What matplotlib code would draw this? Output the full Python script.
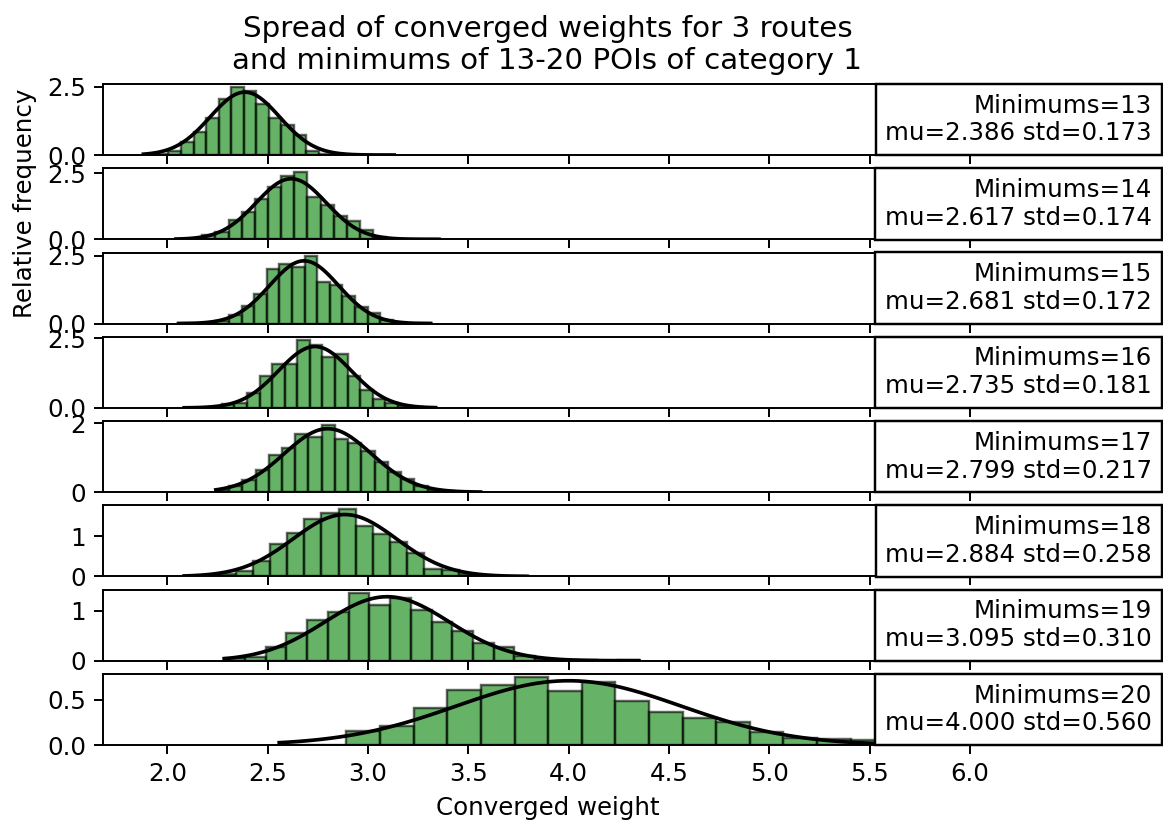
import numpy as np
import matplotlib
matplotlib.use("Agg")
import matplotlib.pyplot as plt

# ---- data ----
minimums = [13, 14, 15, 16, 17, 18, 19, 20]
mus = [2.386, 2.617, 2.681, 2.735, 2.799, 2.884, 3.095, 4.000]
stds = [0.173, 0.174, 0.172, 0.181, 0.217, 0.258, 0.310, 0.560]
# data range (min, max) of each sample -> 20 histogram bins
range_lo = [1.880, 2.042, 2.055, 2.083, 2.241, 2.083, 2.283, 2.557]
range_hi = [3.130, 3.354, 3.312, 3.337, 3.561, 3.794, 4.350, 5.909]
h13 = [0.01, 0.04, 0.13, 0.47, 0.85, 1.36, 2.04, 2.48, 2.35, 1.87, 1.36, 1.11, 0.72, 0.13, 0.02, 0.0, 0.0, 0.0, 0.0, 0.01]
h14 = [0.01, 0.02, 0.15, 0.28, 0.74, 1.02, 1.52, 1.99, 2.40, 2.56, 1.61, 1.31, 0.90, 0.71, 0.34, 0.10, 0.02, 0.0, 0.0, 0.01]
h15 = [0.01, 0.0, 0.04, 0.10, 0.33, 0.64, 1.10, 2.01, 2.19, 2.10, 2.50, 1.54, 1.44, 1.01, 0.60, 0.41, 0.14, 0.03, 0.0, 0.01]
h16 = [0.01, 0.01, 0.04, 0.13, 0.16, 0.54, 1.13, 1.59, 1.59, 2.43, 2.25, 1.84, 1.94, 1.13, 0.63, 0.31, 0.16, 0.06, 0.02, 0.01]
h17 = [0.06, 0.18, 0.36, 0.64, 1.07, 1.27, 1.69, 1.60, 1.96, 1.54, 1.42, 1.19, 0.87, 0.59, 0.38, 0.18, 0.06, 0.02, 0.01, 0.01]
h18 = [0.01, 0.02, 0.07, 0.14, 0.39, 0.80, 1.08, 1.44, 1.58, 1.69, 1.25, 1.07, 0.85, 0.59, 0.19, 0.17, 0.05, 0.02, 0.01, 0.01]
h19 = [0.05, 0.07, 0.28, 0.56, 0.81, 0.97, 1.36, 1.13, 1.26, 1.01, 0.77, 0.60, 0.35, 0.28, 0.09, 0.03, 0.01, 0.01, 0.0, 0.01]
h20 = [0.005, 0.005, 0.15, 0.21, 0.41, 0.61, 0.67, 0.75, 0.60, 0.70, 0.49, 0.37, 0.30, 0.25, 0.14, 0.08, 0.07, 0.05, 0.02, 0.01]
heights = [h13, h14, h15, h16, h17, h18, h19, h20]
yticks = [[0, 2.5], [0, 2.5], [0, 2.5], [0, 2.5], [0, 2], [0, 1], [0, 1], [0, 0.5]]
xticks = [2.0, 2.5, 3.0, 3.5, 4.0, 4.5, 5.0, 5.5, 6.0]
n_bins = 20

W, H, DPI = 1163, 825, 176
fig, axes = plt.subplots(8, 1, sharex=True, figsize=(W / DPI, H / DPI), dpi=DPI)
fig.subplots_adjust(left=103 / W, right=992 / W, top=1 - 84 / H, bottom=1 - 745 / H, hspace=0.1865)

for i, ax in enumerate(axes):
    edges = np.linspace(range_lo[i], range_hi[i], n_bins + 1)
    ax.hist(edges[:-1], bins=edges, weights=heights[i], color='g', alpha=0.6, edgecolor='black')
    x = np.linspace(range_lo[i], range_hi[i], 100)
    p = np.exp(-0.5 * ((x - mus[i]) / stds[i]) ** 2) / (stds[i] * np.sqrt(2 * np.pi))
    ax.plot(x, p, 'k', linewidth=1.5)
    ax.set_yticks(yticks[i])
    ax.text(1.18, 0.135, f"Minimums={minimums[i]}\nmu={mus[i]:.3f} std={stds[i]:.3f}",
            transform=ax.transAxes, ha='right', va='bottom', multialignment='right',
            bbox=dict(facecolor='white', edgecolor='black'))

axes[-1].set_xticks(xticks)
axes[0].set_title("Spread of converged weights for 3 routes\nand minimums of 13-20 POIs of category 1")
axes[1].set_ylabel("Relative frequency")
axes[-1].set_xlabel("Converged weight")

fig.savefig("out.png", dpi=DPI)
